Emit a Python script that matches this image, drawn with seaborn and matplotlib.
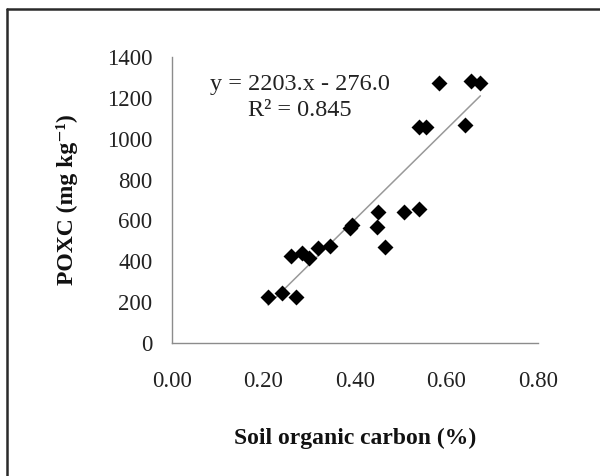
import matplotlib
matplotlib.use("Agg")
import matplotlib.pyplot as plt
from matplotlib.lines import Line2D
import seaborn as sns
import numpy as np
import pandas as pd

# Data
soc = [0.21, 0.24, 0.27, 0.26, 0.285, 0.30, 0.32, 0.345, 0.39, 0.393,
       0.45, 0.447, 0.465, 0.507, 0.54, 0.54, 0.555, 0.584, 0.641, 0.653, 0.674]
poxc = [228, 247, 228, 427, 440, 415, 464, 475, 562, 578,
        643, 570, 469, 640, 654, 1055, 1055, 1273, 1066, 1281, 1273]
slope = 2203.0
intercept = -276.0
r2 = 0.845
xticks = [0.0, 0.2, 0.4, 0.6, 0.8]
yticks = [0, 200, 400, 600, 800, 1000, 1200, 1400]

df = pd.DataFrame({"soc": soc, "poxc": poxc})

sns.set_theme(style="white")
plt.rcParams["font.family"] = ["Liberation Serif", "DejaVu Serif"]

fig = plt.figure(figsize=(6.0, 4.76), dpi=100)
ax = fig.add_axes([172 / 600, 1 - 343.3 / 476, (538 - 172) / 600, (343.3 - 56.7) / 476])

# trend line
xl = np.array([min(soc), max(soc)])
ax.plot(xl, slope * xl + intercept, color="#999999", lw=1.1, zorder=1)

sns.scatterplot(data=df, x="soc", y="poxc", marker="D", s=66, color="black",
                edgecolor="black", linewidth=0, ax=ax, zorder=2)

ax.set_xlim(0, 0.8)
ax.set_ylim(0, 1400)
ax.set_xticks(xticks)
ax.set_xticklabels([f"{v:.2f}" for v in xticks])
ax.set_yticks(yticks)
ax.set_yticklabels([str(v) for v in yticks])
ax.tick_params(axis="both", which="major", direction="out", length=5, width=1,
               color="#8c8c8c", labelsize=16.5, labelcolor="#222222")
ax.tick_params(axis="y", pad=9)
ax.tick_params(axis="x", pad=15)

for s in ["top", "right"]:
    ax.spines[s].set_visible(False)
for s in ["left", "bottom"]:
    ax.spines[s].set_color("#8c8c8c")
    ax.spines[s].set_linewidth(1)

ax.set_xlabel("Soil organic carbon (%)", fontsize=17, fontweight="bold",
              color="#111111", labelpad=26)
ax.set_ylabel("POXC (mg kg\u207b\u00b9)", fontsize=17, fontweight="bold",
              color="#111111", labelpad=21)

ax.text(0.279, 1265, "y = 2203.x - 276.0", fontsize=17.5, color="#222222",
        ha="center", va="center")
ax.text(0.279, 1135, "R² = 0.845", fontsize=17.5, color="#222222",
        ha="center", va="center")

# outer frame (top and left edges visible)
fig.add_artist(Line2D([7 / 600, 7 / 600], [0, 1 - 8.5 / 476], transform=fig.transFigure,
                      color="#2a2a2a", lw=1.8))
fig.add_artist(Line2D([7 / 600, 1], [1 - 9 / 476, 1 - 9 / 476], transform=fig.transFigure,
                      color="#2a2a2a", lw=1.8))

fig.savefig("out.png", dpi=100)
